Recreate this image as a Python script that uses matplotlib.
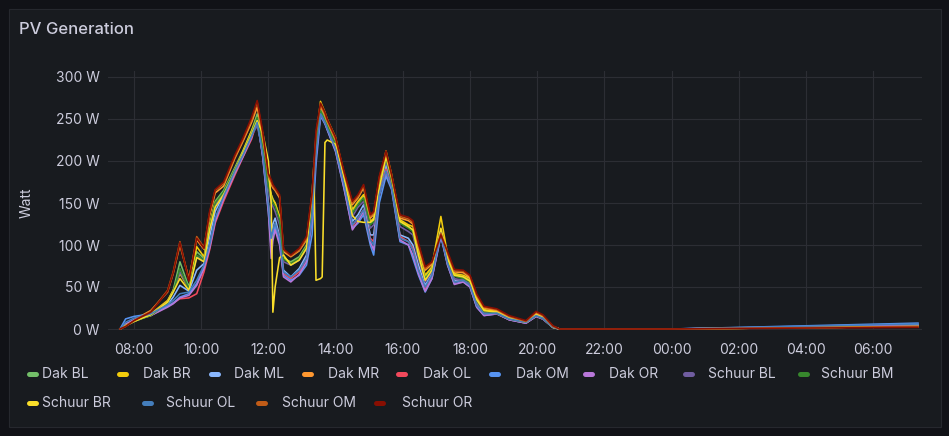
import matplotlib
matplotlib.use("Agg")
import matplotlib.pyplot as plt
from matplotlib.lines import Line2D
from matplotlib.patches import Rectangle

# ---------------- data ----------------
times = [
    "07:35", "07:45", "08:00", "08:30", "09:00", "09:10", "09:22", "09:38", "09:52", "10:05",
    "10:15", "10:25", "10:40", "11:00", "11:15", "11:30", "11:40", "11:50", "12:00", "12:05",
    "12:08", "12:12", "12:20", "12:27", "12:40", "12:55", "13:08", "13:18", "13:21", "13:25",
    "13:33", "13:36", "13:41", "13:45", "14:00", "14:15", "14:30", "14:40", "14:50", "15:02",
    "15:08", "15:18", "15:30", "15:40", "15:55", "16:10", "16:18", "16:28", "16:40", "16:52",
    "17:08", "17:20", "17:32", "17:48", "18:00", "18:12", "18:25", "18:48", "19:10", "19:40",
    "19:58", "20:10", "20:28", "20:40", "00:00", "07:20",
]

dak_bl = [0, 4, 9, 17, 33, 46, 80, 50, 92, 84,
          122, 152, 165, 192, 213, 236, 256, 218, 172, 160,
          155, 150, 132, 84, 80, 86, 100, 150, 182, 222,
          262, 258, 250, 244, 222, 180, 140, 150, 158, 126,
          130, 172, 205, 178, 128, 122, 118, 90, 62, 72,
          118, 85, 65, 62, 58, 35, 22, 20, 13, 8,
          17, 14, 2, 0, 0, 3]
dak_br = [0, 4, 9, 18, 34, 46, 66, 48, 98, 86,
          124, 150, 162, 190, 212, 236, 252, 222, 178, 160,
          154, 150, 134, 86, 78, 84, 98, 148, 182, 225,
          271, 266, 258, 250, 228, 185, 142, 152, 160, 128,
          132, 174, 212, 184, 130, 124, 122, 94, 64, 74,
          134, 88, 66, 64, 60, 37, 23, 21, 14, 9,
          18, 15, 3, 0, 0, 3]
dak_ml = [0, 5, 10, 16, 29, 38, 52, 45, 70, 78,
          110, 140, 160, 188, 208, 232, 250, 210, 150, 110,
          125, 132, 110, 70, 62, 72, 88, 140, 172, 212,
          258, 254, 247, 240, 216, 172, 128, 136, 148, 112,
          112, 166, 195, 172, 112, 108, 100, 76, 52, 66,
          114, 80, 58, 58, 53, 30, 18, 19, 12, 8,
          16, 13, 2, 0, 0, 5]
dak_mr = [0, 4, 11, 22, 44, 66, 100, 60, 106, 95,
          135, 162, 170, 203, 224, 246, 264, 228, 180, 172,
          168, 165, 156, 92, 86, 93, 106, 156, 186, 228,
          266, 261, 254, 246, 224, 183, 148, 156, 168, 132,
          136, 178, 208, 180, 132, 129, 125, 98, 70, 77,
          112, 88, 68, 67, 61, 38, 25, 22, 14, 9,
          19, 15, 3, 0, 0, 3]
dak_ol = [0, 5, 10, 16, 27, 31, 36, 37, 42, 68,
          94, 126, 152, 183, 205, 226, 248, 206, 145, 105,
          115, 125, 108, 66, 60, 68, 84, 136, 168, 208,
          256, 253, 246, 238, 214, 170, 122, 132, 142, 108,
          104, 162, 190, 170, 110, 104, 96, 70, 48, 62,
          112, 78, 56, 58, 52, 28, 17, 18, 11, 7,
          15, 12, 2, 0, 0, 4]
dak_om = [0, 12, 15, 18, 27, 31, 38, 42, 54, 74,
          98, 130, 156, 186, 206, 229, 250, 204, 138, 96,
          112, 122, 104, 64, 58, 64, 76, 112, 150, 196,
          252, 250, 244, 237, 211, 167, 120, 126, 136, 100,
          88, 150, 182, 166, 104, 100, 84, 64, 44, 60,
          110, 76, 54, 56, 50, 26, 16, 18, 11, 7,
          15, 12, 2, 0, 0, 7]
dak_or = [0, 6, 11, 16, 26, 30, 37, 40, 52, 72,
          96, 128, 155, 185, 206, 228, 250, 205, 140, 84,
          105, 118, 100, 62, 56, 65, 80, 130, 165, 205,
          255, 252, 245, 238, 212, 168, 118, 128, 140, 104,
          94, 160, 186, 168, 106, 100, 88, 66, 45, 60,
          112, 76, 53, 56, 50, 26, 16, 18, 11, 7,
          15, 12, 2, 0, 0, 4]
schuur_bl = [0, 4, 9, 17, 32, 44, 68, 48, 86, 82,
             118, 148, 160, 188, 208, 230, 242, 212, 168, 150,
             146, 140, 124, 80, 76, 82, 96, 145, 176, 218,
             256, 252, 246, 240, 218, 176, 134, 145, 152, 120,
             124, 166, 200, 174, 122, 116, 112, 84, 56, 68,
             114, 80, 60, 58, 54, 32, 20, 18, 12, 8,
             16, 12, 2, 0, 0, 3]
schuur_bm = [0, 4, 9, 16, 31, 44, 72, 48, 88, 82,
             120, 150, 163, 190, 210, 233, 252, 215, 170, 156,
             150, 146, 130, 83, 78, 84, 98, 147, 180, 220,
             260, 256, 248, 242, 220, 178, 138, 148, 156, 124,
             128, 170, 203, 176, 126, 120, 116, 88, 60, 70,
             116, 83, 63, 60, 56, 34, 21, 19, 12, 8,
             16, 13, 2, 0, 0, 3]
schuur_br = [0, 4, 9, 17, 32, 44, 60, 46, 85, 80,
             118, 145, 160, 188, 210, 232, 248, 233, 200, 150,
             20, 50, 85, 88, 76, 82, 96, 160, 193, 58,
             60, 62, 222, 225, 220, 180, 135, 128, 127, 127,
             130, 168, 205, 180, 128, 122, 118, 88, 58, 70,
             120, 84, 64, 62, 57, 35, 22, 20, 13, 8,
             17, 14, 2, 0, 0, 3]
schuur_ol = [0, 8, 13, 18, 29, 34, 42, 44, 58, 76,
             100, 132, 158, 188, 208, 230, 246, 208, 146, 108,
             118, 126, 108, 68, 62, 70, 84, 134, 168, 208,
             256, 253, 246, 239, 214, 172, 124, 132, 142, 106,
             100, 160, 188, 168, 108, 104, 94, 70, 50, 64,
             114, 78, 56, 58, 52, 28, 18, 19, 12, 8,
             16, 13, 2, 0, 0, 6]
schuur_om = [0, 3, 10, 21, 46, 68, 104, 58, 110, 97,
             138, 165, 173, 205, 226, 249, 270, 232, 182, 175,
             170, 166, 158, 94, 87, 94, 108, 160, 190, 232,
             268, 263, 256, 248, 226, 186, 150, 158, 170, 134,
             138, 180, 210, 182, 134, 131, 127, 100, 72, 79,
             114, 90, 69, 69, 63, 40, 26, 23, 15, 9,
             20, 16, 3, 0, 0, 3]
schuur_or = [0, 3, 10, 20, 45, 67, 103, 57, 108, 96,
             140, 166, 175, 207, 228, 252, 272, 235, 185, 178,
             172, 168, 160, 95, 88, 96, 110, 163, 193, 236,
             269, 265, 258, 250, 228, 188, 152, 160, 172, 136,
             140, 182, 212, 184, 136, 133, 129, 102, 74, 80,
             112, 92, 71, 70, 64, 42, 27, 24, 16, 10,
             21, 17, 4, 0, 0, 2]

series_names = ["Dak BL", "Dak BR", "Dak ML", "Dak MR", "Dak OL", "Dak OM", "Dak OR",
                "Schuur BL", "Schuur BM", "Schuur BR", "Schuur OL", "Schuur OM", "Schuur OR"]
series_values = [dak_bl, dak_br, dak_ml, dak_mr, dak_ol, dak_om, dak_or,
                 schuur_bl, schuur_bm, schuur_br, schuur_ol, schuur_om, schuur_or]
series_colors = ["#73BF69", "#F2CC0C", "#8AB8FF", "#FF9830", "#F2495C", "#5794F2", "#B877D9",
                 "#705DA0", "#37872D", "#FADE2A", "#447EBC", "#C15C17", "#890F02"]

y_ticks = [0, 50, 100, 150, 200, 250, 300]
y_tick_labels = ["0 W", "50 W", "100 W", "150 W", "200 W", "250 W", "300 W"]
x_tick_hours = [8, 10, 12, 14, 16, 18, 20, 22, 24, 26, 28, 30]
x_tick_labels = ["08:00", "10:00", "12:00", "14:00", "16:00", "18:00",
                 "20:00", "22:00", "00:00", "02:00", "04:00", "06:00"]


def to_hours(s):
    h, m = s.split(":")
    v = int(h) + int(m) / 60.0
    if v < 7.5:
        v += 24
    return v


x_hours = [to_hours(t) for t in times]

# ---------------- layout ----------------
W, H = 949, 436
BG = "#111217"
PANEL = "#181b1f"
TXT = "#ccccdc"
GRID = "#2c2e34"
FONT = ["Inter", "DejaVu Sans"]

plt.rcParams["font.family"] = FONT

fig = plt.figure(figsize=(W / 100, H / 100), dpi=100, facecolor=BG)

fig.patches.append(Rectangle((8.5 / W, 1 - 426.5 / H), 932 / W, 417 / H,
                             transform=fig.transFigure, facecolor=PANEL,
                             edgecolor="#26282e", linewidth=0.8, zorder=0))

fig.text(19 / W, 1 - 30 / H, "PV Generation", color=TXT, fontsize=12,
         fontweight="medium", va="center", ha="left")

ax_l, ax_r, ax_t, ax_b = 108, 922, 71, 330
ax = fig.add_axes([ax_l / W, 1 - ax_b / H, (ax_r - ax_l) / W, (ax_b - ax_t) / H])
ax.set_facecolor("none")
ax.set_zorder(2)

px_per_w = 0.84
ax.set_ylim(-(ax_b - 329) / px_per_w, (329 - ax_t) / px_per_w)
x0 = 8 + (ax_l - 134) / 33.6
x1 = 8 + (ax_r - 134) / 33.6
ax.set_xlim(x0, x1)

for name, vals, col in zip(series_names, series_values, series_colors):
    ax.plot(x_hours, vals, color=col, lw=1.15, solid_joinstyle="round", label=name)

ax.set_yticks(y_ticks)
ax.set_yticklabels(y_tick_labels)
ax.set_xticks(x_tick_hours)
ax.set_xticklabels(x_tick_labels)
ax.tick_params(axis="both", length=0, colors=TXT, labelsize=10)
ax.tick_params(axis="y", pad=6)
ax.tick_params(axis="x", pad=9)
ax.grid(True, color=GRID, lw=0.8)
ax.set_axisbelow(True)
for sp in ax.spines.values():
    sp.set_visible(False)

fig.text(27 / W, 1 - 203 / H, "Watt", rotation=90, color=TXT, fontsize=10,
         va="center", ha="center")

# ---------------- legend ----------------
legend_rows = [374, 403]
legend_pos = [(26, 42, 0), (116, 143, 0), (208, 234, 0), (301, 328, 0), (395, 423, 0),
              (488, 516, 0), (582, 609, 0), (682, 708, 0), (797, 821, 0),
              (26, 42, 1), (141, 166, 1), (255, 282, 1), (373, 402, 1)]
for (mx, tx, row), name, col in zip(legend_pos, series_names, series_colors):
    yy = 1 - legend_rows[row] / H
    fig.add_artist(Line2D([(mx + 3) / W, (mx + 10) / W], [yy, yy], transform=fig.transFigure,
                          color=col, lw=3.6, solid_capstyle="round"))
    fig.text(tx / W, yy, name, color=TXT, fontsize=10, va="center", ha="left")

fig.savefig("out.png", dpi=100, facecolor=BG)
